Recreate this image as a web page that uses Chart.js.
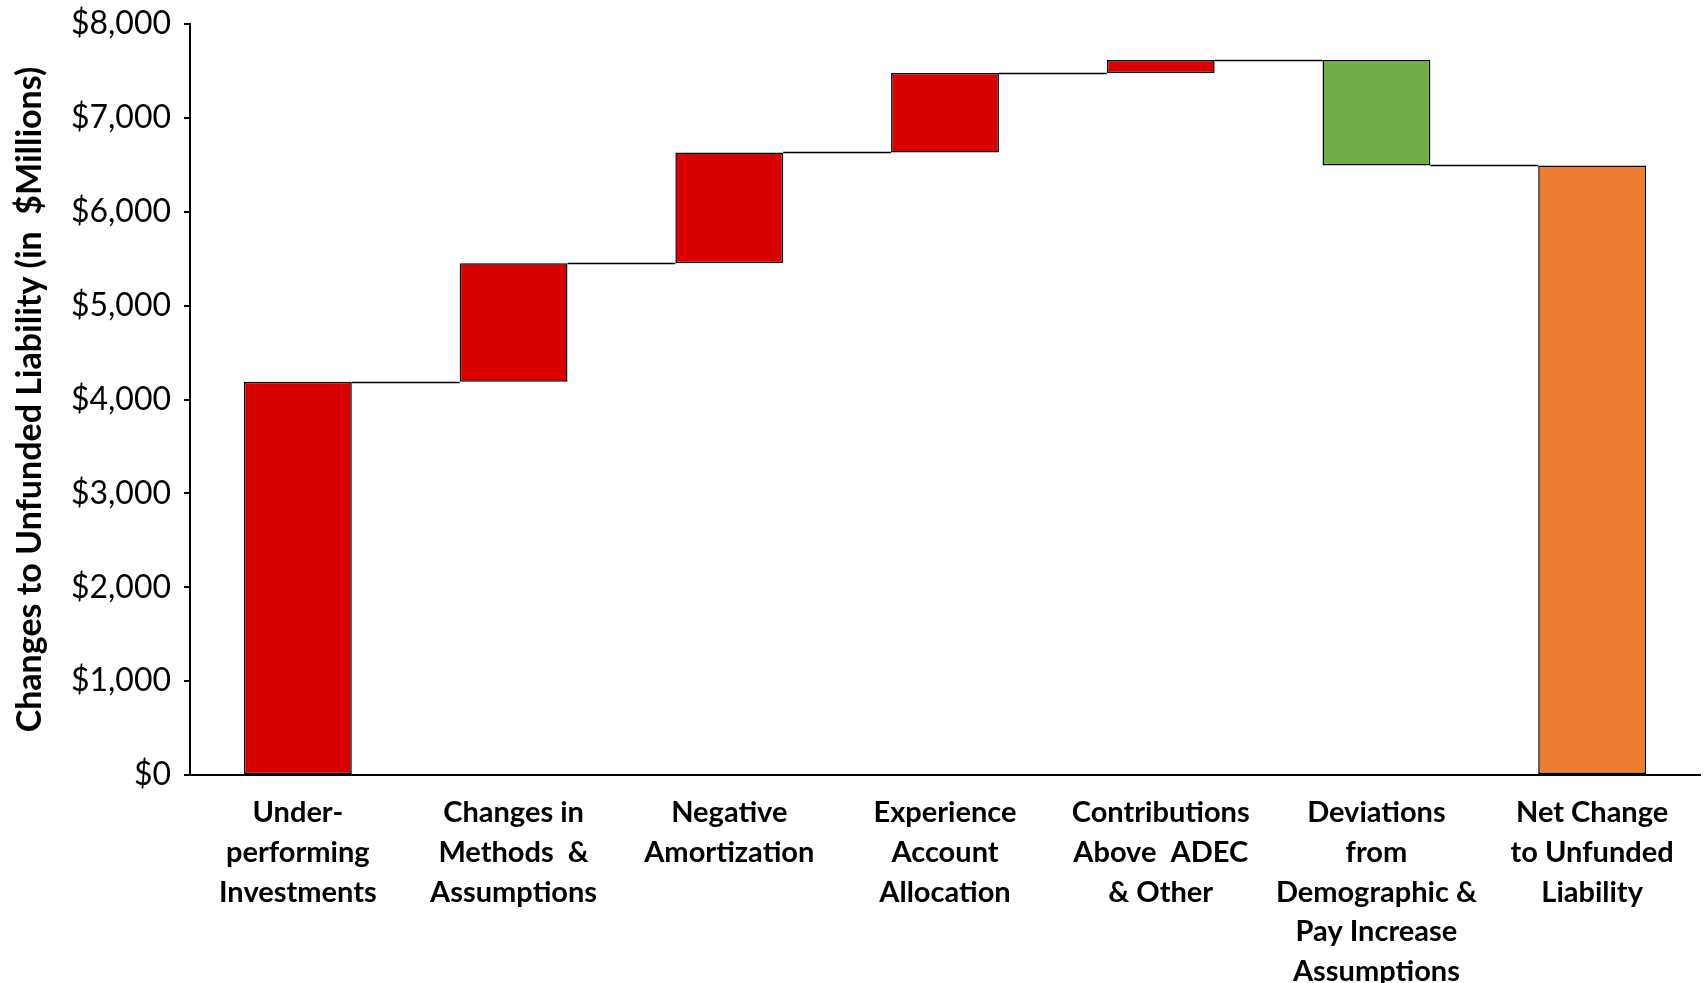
<!DOCTYPE html>
<html>
<head>
<meta charset="utf-8">
<script src="https://cdn.jsdelivr.net/npm/chart.js@4"></script>
<style>
  html, body { margin: 0; padding: 0; background: #fff; }
  #wrap { width: 1705px; height: 983px; }
</style>
</head>
<body>
<div id="wrap"><canvas id="waterfall"></canvas></div>
<script>
// categories (multi-line labels as in the picture)
const categories = [
    ['Under-', 'performing', 'Investments'],
    ['Changes in', 'Methods  &', 'Assumptions'],
    ['Negative', 'Amortization'],
    ['Experience', 'Account', 'Allocation'],
    ['Contributions', 'Above  ADEC', '& Other'],
    ['Deviations', 'from', 'Demographic &', 'Pay Increase', 'Assumptions'],
    ['Net Change', 'to Unfunded', 'Liability']
];

// bar bottoms and tops ($ millions)
const barStart = [0, 4190, 5451, 6632, 7477, 7616, 0];
const barEnd   = [4190, 5451, 6632, 7477, 7616, 6493, 6493];

const barColors = ['#D90000', '#D90000', '#D90000', '#D90000', '#D90000', '#70AD47', '#ED7D31'];

const yTicks = [0, 1000, 2000, 3000, 4000, 5000, 6000, 7000, 8000];

const fontFamily = 'Lato, "Open Sans", sans-serif';

// connector lines between neighbouring bars at the running level
const connectors = {
    id: 'connectors',
    afterDatasetsDraw(chart) {
        const meta = chart.getDatasetMeta(0);
        const y = chart.scales.y;
        const ctx = chart.ctx;
        ctx.save();
        ctx.strokeStyle = '#000';
        ctx.lineWidth = 1.5;
        for (let i = 0; i < meta.data.length - 1; i++) {
            const a = meta.data[i], b = meta.data[i + 1];
            const py = Math.round(y.getPixelForValue(barEnd[i])) + 0.5;
            ctx.beginPath();
            ctx.moveTo(a.x + a.width / 2, py);
            ctx.lineTo(b.x - b.width / 2, py);
            ctx.stroke();
        }
        ctx.restore();
    }
};

const ctx = document.getElementById('waterfall').getContext('2d');
new Chart(ctx, {
    type: 'bar',
    data: {
        labels: categories,
        datasets: [{
            data: barStart.map((s, i) => [s, barEnd[i]]),
            backgroundColor: barColors,
            borderColor: '#000',
            borderWidth: 1.5,
            borderSkipped: false,
            barPercentage: 0.5,
            categoryPercentage: 1.0
        }]
    },
    options: {
        responsive: true,
        maintainAspectRatio: false,
        animation: false,
        layout: {
            padding: { left: 0, right: 5, top: 24, bottom: 0 }
        },
        scales: {
            x: {
                grid: { display: false, drawTicks: false },
                border: { color: '#000', width: 2 },
                ticks: {
                    color: '#000',
                    autoSkip: false,
                    maxRotation: 0,
                    padding: 18,
                    font: { family: fontFamily, size: 29, weight: 'bold', lineHeight: 1.37 }
                },
                afterFit(scale) { scale.height = 208; }
            },
            y: {
                min: 0,
                max: 8000,
                afterBuildTicks(scale) {
                    scale.ticks = yTicks.map(v => ({ value: v }));
                },
                grid: {
                    drawOnChartArea: false,
                    drawTicks: true,
                    tickLength: 6,
                    color: '#000',
                    lineWidth: 2
                },
                border: { color: '#000', width: 2 },
                ticks: {
                    color: '#000',
                    padding: 13,
                    font: { family: fontFamily, size: 32 },
                    callback: v => '$' + v.toLocaleString('en-US')
                },
                title: {
                    display: true,
                    text: 'Changes to Unfunded Liability (in  $Millions)',
                    color: '#000',
                    padding: { top: 10, bottom: 0 },
                    font: { family: fontFamily, size: 34, weight: 'bold' }
                },
                afterFit(scale) {
                    scale.width = 190;
                    scale.paddingTop = 0;
                    scale.paddingBottom = 0;
                }
            }
        },
        plugins: {
            legend: { display: false },
            tooltip: { enabled: false }
        }
    },
    plugins: [connectors]
});
</script>
</body>
</html>
